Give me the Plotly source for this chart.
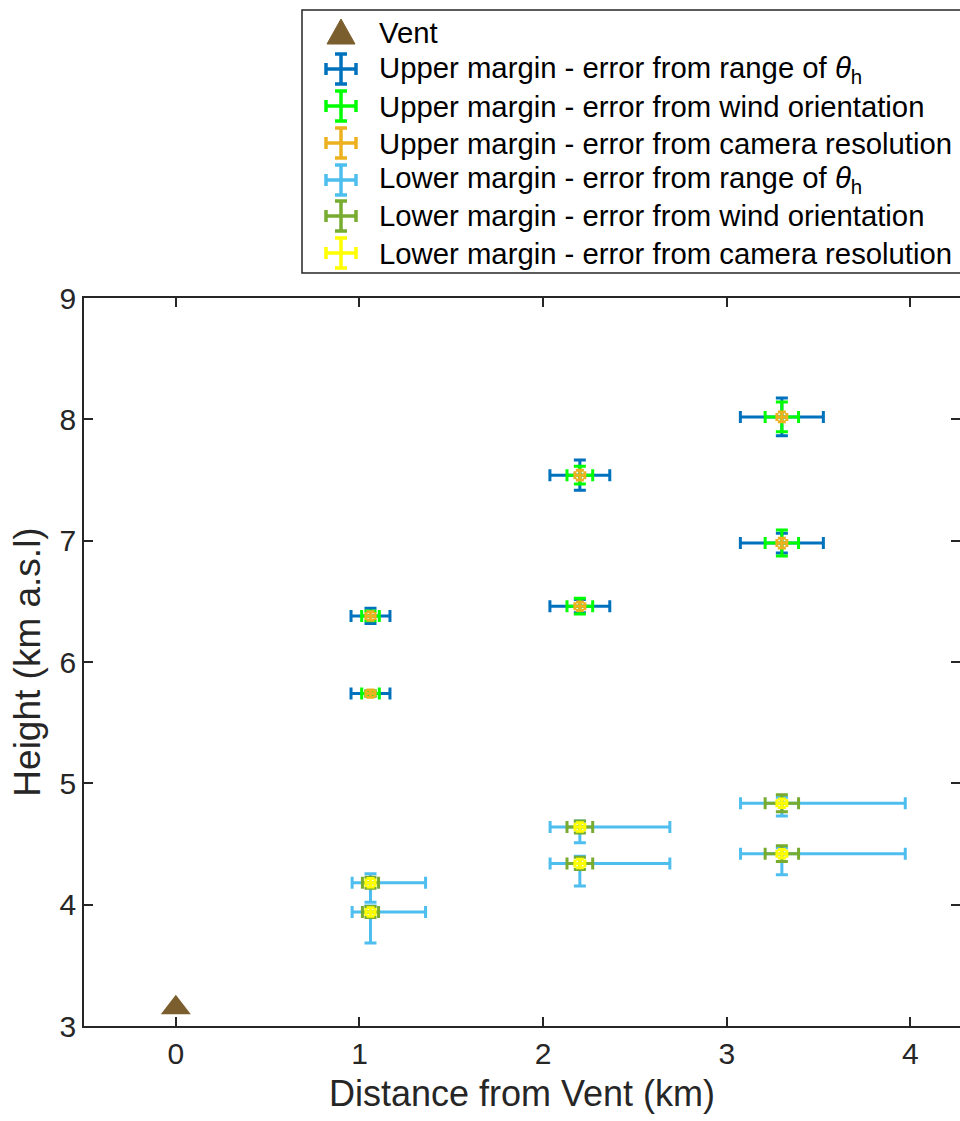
import plotly.graph_objects as go

# ---------------- data ----------------
vent_x = [0.0]
vent_y = [3.15]

x_upper = [1.06, 1.06, 2.20, 2.20, 3.30, 3.30]
y_upper = [6.38, 5.74, 7.54, 6.46, 8.02, 6.98]
upper_theta_xerr = [0.106, 0.106, 0.163, 0.163, 0.226, 0.226]
upper_theta_yerr = [0.062, 0.020, 0.124, 0.055, 0.155, 0.082]
upper_wind_xerr = [0.048, 0.048, 0.070, 0.070, 0.091, 0.091]
upper_wind_yerr = [0.040, 0.020, 0.073, 0.065, 0.122, 0.107]
upper_cam_xerr = [0.025, 0.025, 0.027, 0.027, 0.027, 0.027]
upper_cam_yerr = [0.035, 0.030, 0.040, 0.035, 0.040, 0.040]

x_lower = [1.06, 1.06, 2.20, 2.20, 3.30, 3.30]
y_lower = [4.18, 3.94, 4.64, 4.34, 4.835, 4.42]
lower_theta_xminus = [0.100, 0.100, 0.162, 0.162, 0.225, 0.225]
lower_theta_xplus = [0.300, 0.300, 0.490, 0.490, 0.672, 0.672]
lower_theta_yplus = [0.074, 0.050, 0.050, 0.060, 0.050, 0.050]
lower_theta_yminus = [0.160, 0.255, 0.130, 0.187, 0.105, 0.173]
lower_wind_xerr = [0.044, 0.044, 0.070, 0.070, 0.091, 0.091]
lower_wind_yerr = [0.045, 0.045, 0.050, 0.050, 0.070, 0.065]
lower_cam_xerr = [0.025, 0.025, 0.027, 0.027, 0.027, 0.027]
lower_cam_yerr = [0.035, 0.035, 0.035, 0.035, 0.035, 0.035]

legend_labels = [
    "Vent",
    "Upper margin - error from range of <i>θ</i><sub>h</sub>",
    "Upper margin - error from wind orientation",
    "Upper margin - error from camera resolution",
    "Lower margin - error from range of <i>θ</i><sub>h</sub>",
    "Lower margin - error from wind orientation",
    "Lower margin - error from camera resolution",
]
vent_color = "#7B5E2E"
colors = ["#0072BD", "#00FF00", "#EDB120", "#4DBEEE", "#77AC30", "#FFFF00"]

x_ticks = [0, 1, 2, 3, 4]
y_ticks = [3, 4, 5, 6, 7, 8, 9]

AX = "#262626"
FONT = "Liberation Sans, Arial, Helvetica, sans-serif"
LW = 3

# plot area in pixels (for placing the legend box above it)
L, R, T, B = 84, 960, 298, 1026


def px(xp):
    return (xp - L) / (R - L)


def py(yp):
    return (B - yp) / (B - T)


fig = go.Figure()


def eb_trace(x, y, color, xe, xem, ye, yem, cap):
    ex = dict(type="data", array=xe, color=color, thickness=LW, width=cap)
    if xem is not None:
        ex.update(symmetric=False, arrayminus=xem)
    ey = dict(type="data", array=ye, color=color, thickness=LW, width=cap)
    if yem is not None:
        ey.update(symmetric=False, arrayminus=yem)
    return go.Scatter(
        x=x, y=y, mode="markers",
        marker=dict(size=1, color="rgba(0,0,0,0)"),
        error_x=ex, error_y=ey, showlegend=False, hoverinfo="skip",
    )


# upper margin
fig.add_trace(eb_trace(x_upper, y_upper, colors[0], upper_theta_xerr, None, upper_theta_yerr, None, 6))
fig.add_trace(eb_trace(x_upper, y_upper, colors[1], upper_wind_xerr, None, upper_wind_yerr, None, 6))
fig.add_trace(eb_trace(x_upper, y_upper, colors[2], upper_cam_xerr, None, upper_cam_yerr, None, 4))
# lower margin
fig.add_trace(eb_trace(x_lower, y_lower, colors[3], lower_theta_xplus, lower_theta_xminus,
                       lower_theta_yplus, lower_theta_yminus, 6))
fig.add_trace(eb_trace(x_lower, y_lower, colors[4], lower_wind_xerr, None, lower_wind_yerr, None, 6))
fig.add_trace(eb_trace(x_lower, y_lower, colors[5], lower_cam_xerr, None, lower_cam_yerr, None, 4))

# vent
fig.add_trace(go.Scatter(
    x=vent_x, y=vent_y, mode="markers", name="Vent",
    marker=dict(symbol="triangle-up", size=26, color=vent_color),
    showlegend=False, hoverinfo="skip",
))

# invisible trace for right-side tick axis
fig.add_trace(go.Scatter(x=[None], y=[None], yaxis="y2", showlegend=False, hoverinfo="skip"))

# ---------------- legend box (drawn in paper coordinates) ----------------
shapes = []
annotations = []
box_l, box_r, box_t, box_b = 302, 963, 10, 273
shapes.append(dict(type="rect", xref="paper", yref="paper",
                   x0=px(box_l), x1=px(box_r), y0=py(box_b), y1=py(box_t),
                   line=dict(color=AX, width=1.5), fillcolor="white", layer="above"))
row_y = [32, 69, 106, 143, 180, 216, 253]
sym_x = 341
text_x = 377
for i, (lab, ry) in enumerate(zip(legend_labels, row_y)):
    annotations.append(dict(
        xref="paper", yref="paper", x=px(text_x), y=py(ry), xanchor="left", yanchor="middle",
        text=lab, showarrow=False, font=dict(size=29.3, color="black", family=FONT),
    ))
    if i == 0:
        path = "M {:.5f},{:.5f} L {:.5f},{:.5f} L {:.5f},{:.5f} Z".format(
            px(sym_x - 14), py(ry + 12), px(sym_x + 14), py(ry + 12), px(sym_x), py(ry - 13))
        shapes.append(dict(type="path", xref="paper", yref="paper", path=path,
                           fillcolor=vent_color, line=dict(color=vent_color, width=1), layer="above"))
    else:
        c = colors[i - 1]
        a, cp = 15, 6
        segs = [
            (sym_x - a, ry, sym_x + a, ry),
            (sym_x, ry - a, sym_x, ry + a),
            (sym_x - a, ry - cp, sym_x - a, ry + cp),
            (sym_x + a, ry - cp, sym_x + a, ry + cp),
            (sym_x - cp, ry - a, sym_x + cp, ry - a),
            (sym_x - cp, ry + a, sym_x + cp, ry + a),
        ]
        for x0, y0, x1, y1 in segs:
            shapes.append(dict(type="line", xref="paper", yref="paper",
                               x0=px(x0), y0=py(y0), x1=px(x1), y1=py(y1),
                               line=dict(color=c, width=3.5), layer="above"))

fig.update_layout(
    width=960, height=1121,
    margin=dict(l=L, r=960 - R, t=T, b=1121 - B),
    plot_bgcolor="white", paper_bgcolor="white",
    font=dict(family=FONT, color=AX, size=29),
    showlegend=False,
    xaxis=dict(
        range=[-0.5, 4.27], tickvals=x_ticks, ticks="inside", ticklen=9, tickwidth=1.5,
        tickcolor=AX, showline=True, linecolor=AX, linewidth=1.5, mirror="ticks",
        showgrid=False, zeroline=False, tickfont=dict(size=30, color=AX),
        title=dict(text="Distance from Vent (km)", font=dict(size=36, color=AX), standoff=12),
    ),
    yaxis=dict(
        range=[3, 9], tickvals=y_ticks, ticks="inside", ticklen=9, tickwidth=1.5,
        tickcolor=AX, showline=True, linecolor=AX, linewidth=1.5, mirror=False,
        showgrid=False, zeroline=False, tickfont=dict(size=30, color=AX),
        title=dict(text="Height (km a.s.l)", font=dict(size=37, color=AX), standoff=8),
    ),
    yaxis2=dict(
        range=[3, 9], overlaying="y", side="right", tickvals=y_ticks, ticks="inside",
        ticklen=9, tickwidth=1.5, tickcolor=AX, showticklabels=False, showline=False,
        showgrid=False, zeroline=False,
    ),
    shapes=shapes,
    annotations=annotations,
)

fig.write_html("out.html")
